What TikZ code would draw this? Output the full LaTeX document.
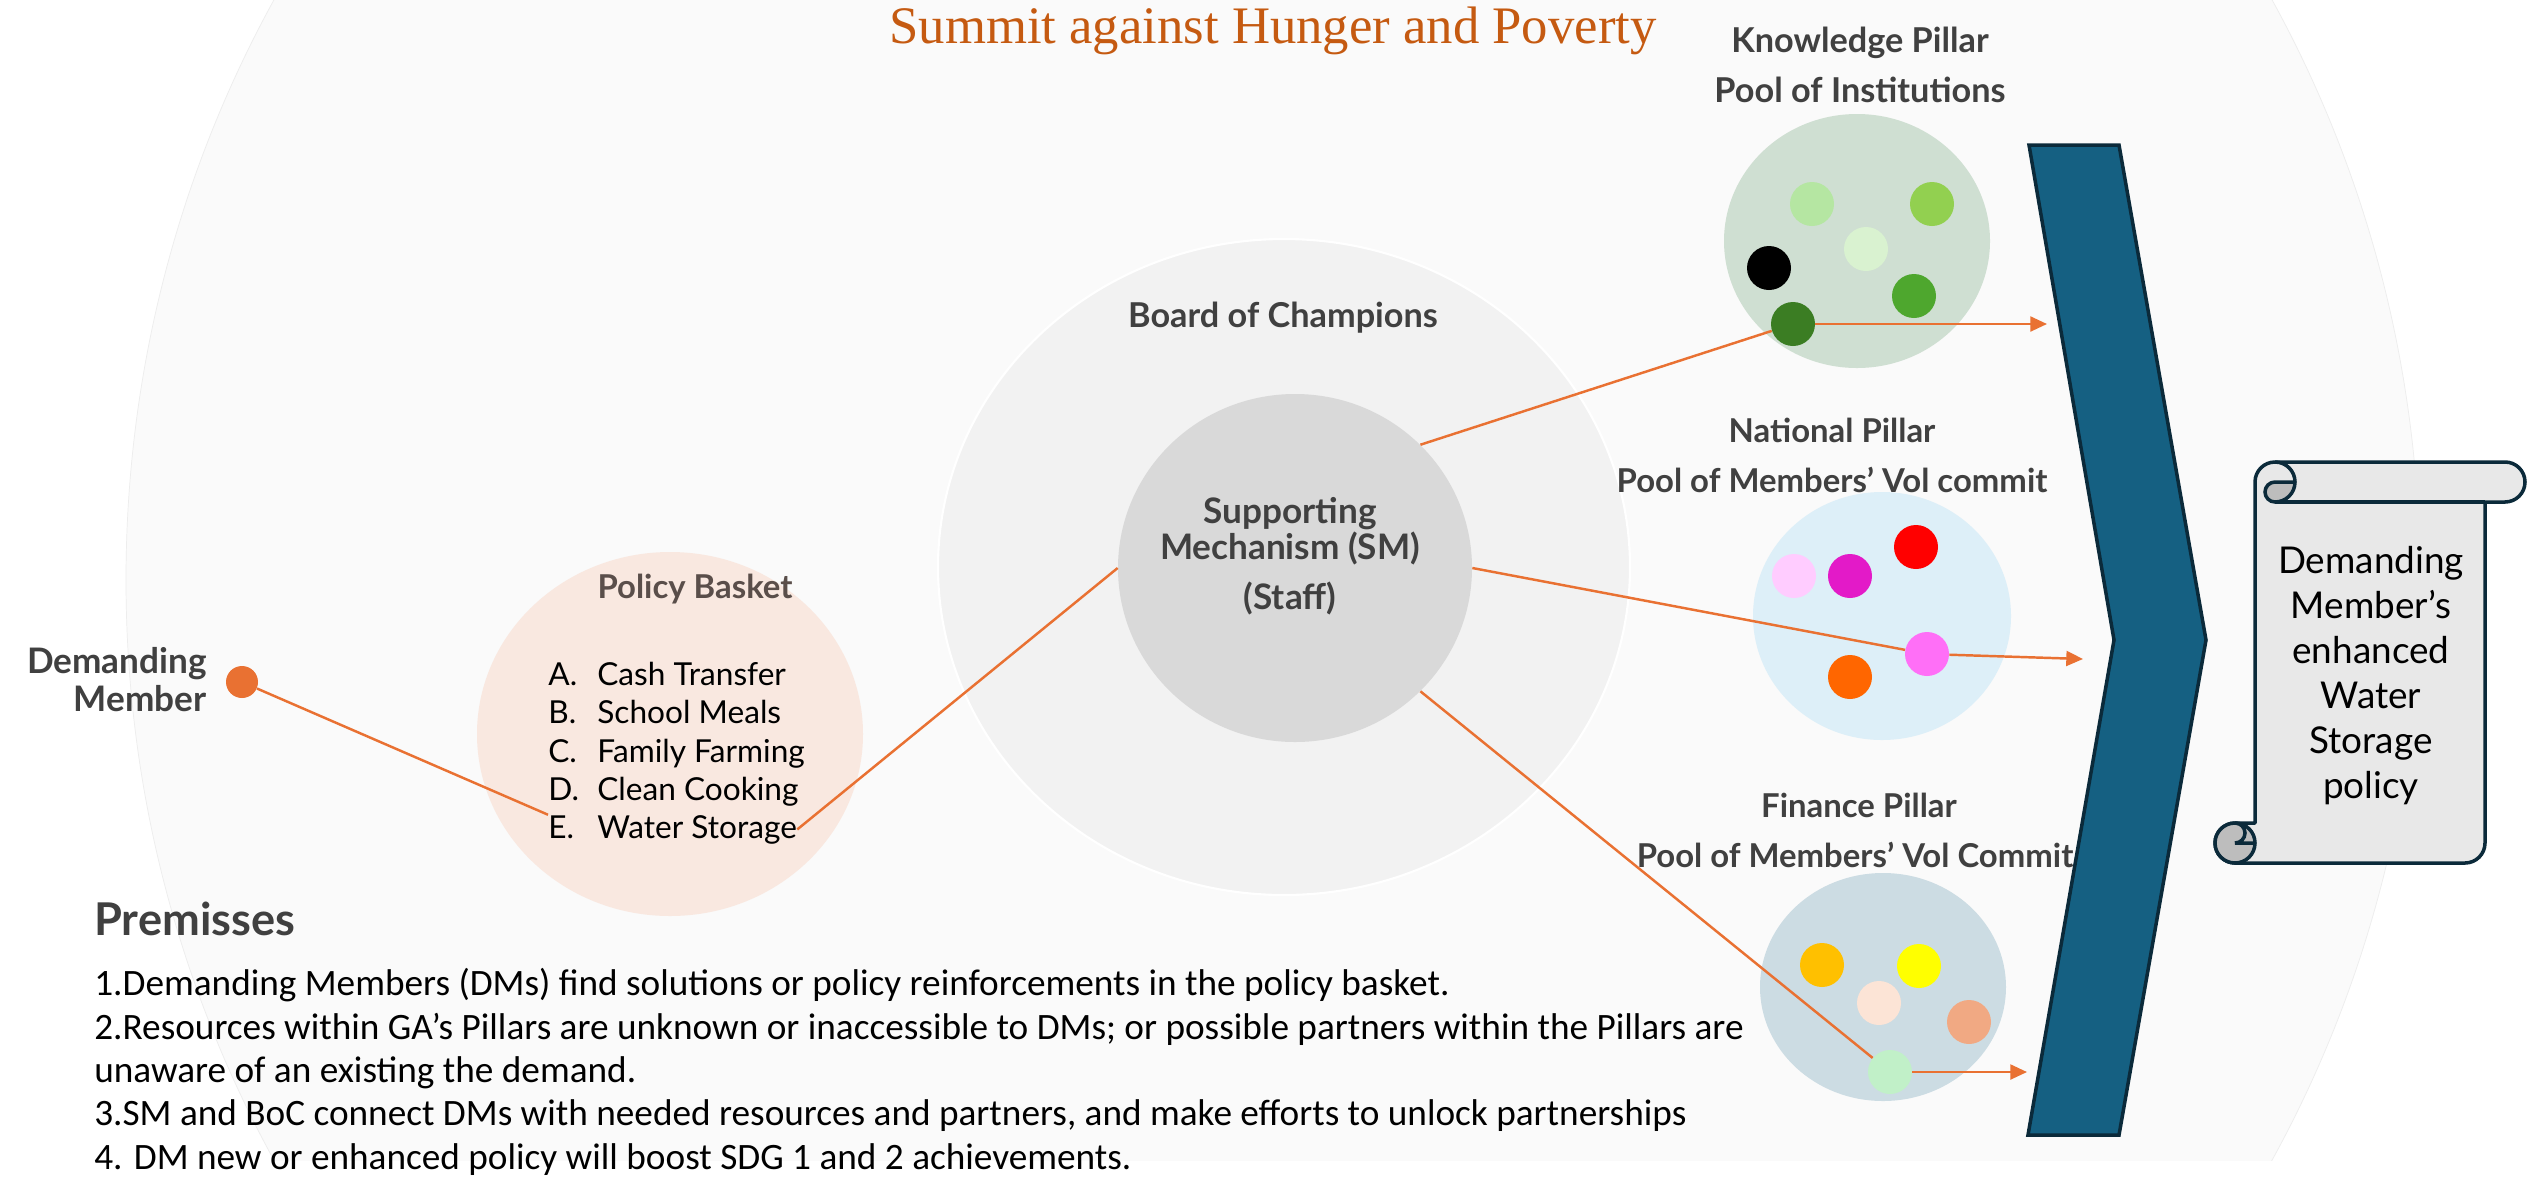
\documentclass[tikz,border=0pt]{standalone}
\usepackage{fontspec}
\setmainfont{Lato}
\newfontfamily\premfont{Carlito}
\newfontfamily\titlefont{Liberation Serif}
\usetikzlibrary{shapes.geometric,arrows.meta}

%Colours
\definecolor{backfill}{HTML}{FAFAFA}
\definecolor{backline}{HTML}{EDEDED}
\definecolor{bocfill}{HTML}{F2F2F2}
\definecolor{smfill}{HTML}{D9D9D9}
\definecolor{basketfill}{HTML}{F9E8E0}
\definecolor{knowfill}{HTML}{CFDFD2}
\definecolor{natfill}{HTML}{DDEFF8}
\definecolor{finfill}{HTML}{CCDCE3}
\definecolor{linkcol}{HTML}{E97132}
\definecolor{titlecol}{HTML}{C55A11}
\definecolor{labelcol}{HTML}{404040}
\definecolor{basketcol}{HTML}{5A4E4A}
\definecolor{chevfill}{HTML}{156082}
\definecolor{chevline}{HTML}{0B2A3A}
\definecolor{scrollfill}{HTML}{E8E8E8}
\definecolor{curlfill}{HTML}{BDBDBD}
%Members in the pools
\definecolor{kone}{HTML}{B5E6A2}
\definecolor{ktwo}{HTML}{92D050}
\definecolor{kthree}{HTML}{D9F2D0}
\definecolor{kfive}{HTML}{4EA72E}
\definecolor{ksix}{HTML}{3B7D23}
\definecolor{nlilac}{HTML}{FFCCFF}
\definecolor{ntwo}{HTML}{E31AC8}
\definecolor{nthree}{HTML}{FF0000}
\definecolor{nfour}{HTML}{FF6FF7}
\definecolor{nfive}{HTML}{FF6600}
\definecolor{fone}{HTML}{FFC000}
\definecolor{ftwo}{HTML}{FFFF00}
\definecolor{fthree}{HTML}{FCE4D6}
\definecolor{ffour}{HTML}{F1A983}
\definecolor{ffive}{HTML}{C1F0C8}

\begin{document}
\begin{tikzpicture}
[x=0.2mm,y=-0.2mm,>={Triangle[length=9.5pt,width=8.5pt]},
 pool/.style={ellipse,inner sep=0pt},
 member/.style={circle,inner sep=0pt,minimum size=8.8mm},
 link/.style={draw=linkcol,line width=1.4pt},
 pillar/.style={font=\bfseries\fontsize{18.7}{23}\selectfont,text=labelcol,anchor=base,inner sep=0pt},
 item/.style={font=\fontsize{18}{22}\selectfont,anchor=base west,inner sep=0pt},]

%Page and background disc
\useasboundingbox (0,0) rectangle (2527,1180);
\fill[white] (0,0) rectangle (2527,1180);
\begin{scope}
\clip (0,0) rectangle (2527,1160);
\filldraw[fill=backfill,draw=backline] (1273,580) ellipse [x radius=1147,y radius=1180];
\end{scope}

%Chevron
\filldraw[fill=chevfill,draw=chevline,line width=2pt] (2029,145) -- (2119,145) -- (2206,640) -- (2119,1135) -- (2028,1135) -- (2114,640) -- cycle;
\coordinate (kend) at (2047,324);
\coordinate (nend) at (2083,659);
\coordinate (fend) at (2027,1072);

%Title
\node (title) at (889,43) [anchor=base west,inner sep=0pt,text=titlecol,font=\titlefont\fontsize{30}{36}\selectfont] {Summit against Hunger and Poverty};

%Board of Champions and Supporting Mechanism
\node (boc) at (1284,567) [pool,fill=bocfill,draw=white,line width=1.2pt,minimum width=138.4mm,minimum height=131.2mm] {};
\node (sm) at (1295,568) [pool,fill=smfill,minimum width=70.8mm,minimum height=69.6mm] {};
\node (bocname) at (1283,327) [pillar,font=\bfseries\fontsize{19.5}{23}\selectfont] {Board of Champions};
\node (smname) at (1290,556) [align=center,inner sep=0pt,text=labelcol,font=\bfseries\fontsize{20}{20.5}\selectfont] {Supporting\\Mechanism (SM)\\[8pt](Staff)};

%Policy basket
\node (basket) at (670,734) [pool,fill=basketfill,minimum width=77.2mm,minimum height=72.8mm] {};
\node (baskname) at (695,598) [pillar,text=basketcol] {Policy Basket};
\node (itemA) at (548,685) [item] {\makebox[9.8mm][l]{A.}Cash Transfer};
\node (itemB) at (548,723) [item] {\makebox[9.8mm][l]{B.}School Meals};
\node (itemC) at (548,762) [item] {\makebox[9.8mm][l]{C.}Family Farming};
\node (itemD) at (548,800) [item] {\makebox[9.8mm][l]{D.}Clean Cooking};
\node (itemE) at (548,838) [item] {\makebox[9.8mm][l]{E.}Water Storage};

%Demanding member
\node (dm) at (242,682) [circle,inner sep=0pt,minimum size=6.4mm,fill=linkcol] {};
\node (dmname) at (207,647) [anchor=north east,align=right,inner sep=0pt,text=labelcol,font=\bfseries\fontsize{20}{21.6}\selectfont] {Demanding\\Member};

%Knowledge pillar
\node (kname) at (1860,52) [pillar,font=\bfseries\fontsize{19.5}{23}\selectfont] {Knowledge Pillar};
\node (kpool) at (1860,102) [pillar,font=\bfseries\fontsize{19.5}{23}\selectfont] {Pool of Institutions};
\node (know) at (1857,241) [pool,fill=knowfill,minimum width=53.2mm,minimum height=50.8mm] {};
\node (k1) at (1812,204) [member,fill=kone] {};
\node (k2) at (1932,204) [member,fill=ktwo] {};
\node (k3) at (1866,249) [member,fill=kthree] {};
\node (k4) at (1769,268) [member,fill=black] {};
\node (k5) at (1914,296) [member,fill=kfive] {};
\node (k6) at (1793,324) [member,fill=ksix] {};

%National pillar
\node (nname) at (1832,442) [pillar] {National Pillar};
\node (npool) at (1832,492) [pillar] {Pool of Members’ Vol commit};
\node (nat) at (1882,616) [pool,fill=natfill,minimum width=51.6mm,minimum height=49.6mm] {};
\node (n1) at (1794,576) [member,fill=nlilac] {};
\node (n2) at (1850,576) [member,fill=ntwo] {};
\node (n3) at (1916,547) [member,fill=nthree] {};
\node (n4) at (1927,654) [member,fill=nfour] {};
\node (n5) at (1850,677) [member,fill=nfive] {};

%Finance pillar
\node (fname) at (1859,817) [pillar] {Finance Pillar};
\node (fpool) at (1855,867) [pillar] {Pool of Members’ Vol Commit};
\node (fin) at (1883,987) [pool,fill=finfill,minimum width=49.2mm,minimum height=45.6mm] {};
\node (f1) at (1822,965) [member,fill=fone] {};
\node (f2) at (1919,966) [member,fill=ftwo] {};
\node (f3) at (1879,1003) [member,fill=fthree] {};
\node (f4) at (1969,1022) [member,fill=ffour] {};
\node (f5) at (1890,1072) [member,fill=ffive] {};

%Scroll
\filldraw[fill=scrollfill,draw=chevline,line width=2pt,line join=round]
 (2255,823) -- (2255,482) arc[start angle=180,delta angle=90,radius=20]
 -- (2505,462) arc[start angle=270,delta angle=180,radius=20]
 -- (2485,502) -- (2485,843) arc[start angle=0,delta angle=90,radius=20]
 -- (2235,863) arc[start angle=90,delta angle=180,radius=20] -- cycle;
\fill[curlfill] (2295,482) arc[start angle=0,delta angle=90,radius=20] arc[start angle=90,delta angle=180,radius=10] -- cycle;
\draw[chevline,line width=2pt] (2275,462) arc[start angle=270,delta angle=180,radius=20] arc[start angle=90,delta angle=180,radius=10] -- (2295,482);
\draw[chevline,line width=2pt] (2485,502) -- (2275,502);
\filldraw[fill=curlfill,draw=chevline,line width=2pt] (2235,843) circle[radius=20];
\draw[chevline,line width=2pt] (2235,823) arc[start angle=270,delta angle=180,radius=10] -- (2255,843);
\node (policy) at (2371,676) [align=center,inner sep=0pt,font=\fontsize{21}{25.6}\selectfont] {Demanding\\Member’s\\enhanced\\Water\\Storage\\policy};

%Links
\draw[link] (dm) -- (itemE.north west);
\draw[link] (itemE.east) -- (sm.west);
\draw[link] (sm.north east) -- (k6);
\draw[link] (sm.east) -- (n4);
\draw[link] (sm.south east) -- (f5);
\draw[link,->] (k6) -- (kend);
\draw[link,->] (n4) -- (nend);
\draw[link,->] (f5) -- (fend);

%Premisses
\node (premhead) at (94,935) [anchor=base west,inner sep=0pt,text=labelcol,font=\bfseries\fontsize{25.7}{30}\selectfont] {Premisses};
\node (premlist) at (94,968) [anchor=north west,align=left,inner sep=0pt,font=\premfont\fontsize{21.2}{24.7}\selectfont] {1.Demanding Members (DMs) find solutions or policy reinforcements in the policy basket.\\2.Resources within GA’s Pillars are unknown or inaccessible to DMs; or possible partners within the Pillars are\\unaware of an existing the demand.\\3.SM and BoC connect DMs with needed resources and partners, and make efforts to unlock partnerships\\4. DM new or enhanced policy will boost SDG 1 and 2 achievements.};

\end{tikzpicture}
\end{document}
